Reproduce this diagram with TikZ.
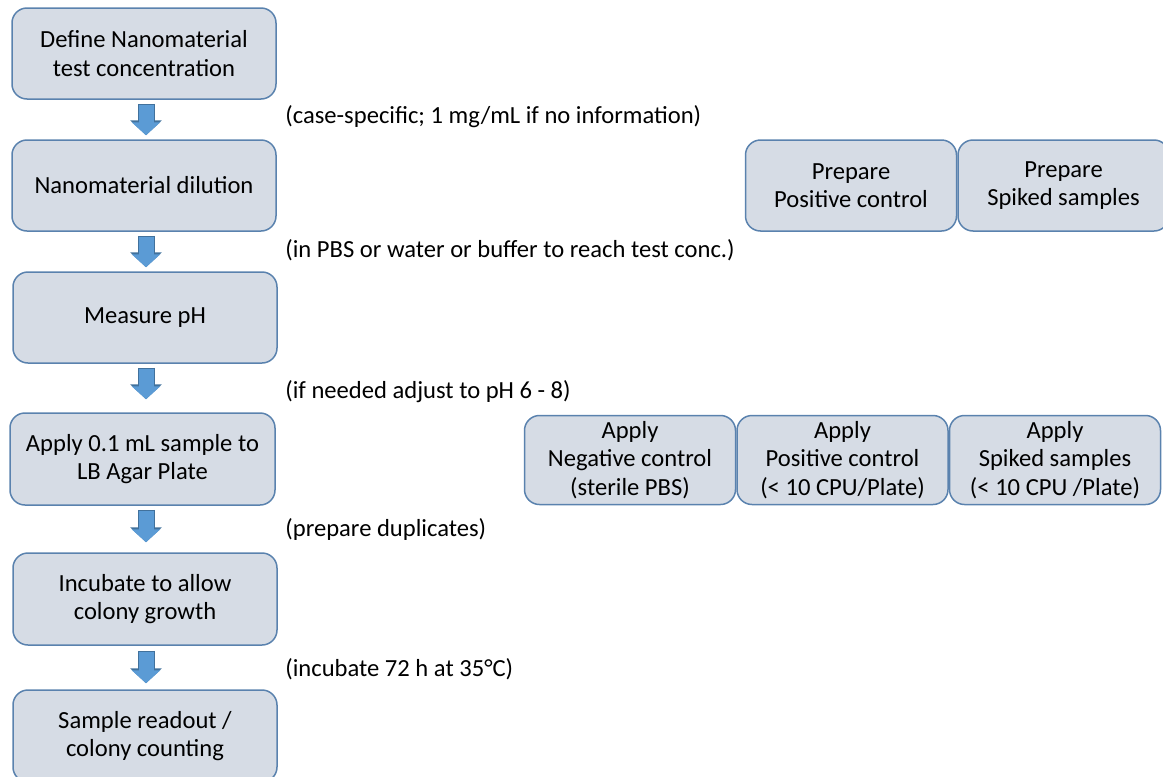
\documentclass[tikz,border=0pt]{standalone}
\usepackage{fontspec}
\setmainfont{Carlito}
\usetikzlibrary{arrows.meta,calc}

\definecolor{boxfill}{HTML}{D6DCE5}
\definecolor{boxline}{HTML}{5A82AE}
\definecolor{arrowfill}{HTML}{5B9BD5}
\definecolor{arrowline}{HTML}{41719C}

\begin{document}
\begin{tikzpicture}[x=0.5pt, y=-0.5pt,
    stepbox/.style={draw=boxline, line width=0.75pt, fill=boxfill, rounded corners=7.5pt,
        minimum width=132pt, minimum height=45.5pt, align=center, inner sep=2pt,
        font=\fontsize{12.3}{14.3}\selectfont},
    sidebox/.style={stepbox, minimum width=105.5pt, minimum height=44.5pt},
    note/.style={anchor=west, inner sep=0pt, font=\fontsize{12.3}{14.3}\selectfont},
    flowarrow/.style={arrowfill, line width=7.5pt, -{Triangle[width=14pt,length=6.5pt]},
        preaction={draw=arrowline, line width=8.5pt, shorten <=-0.5pt,
            -{Triangle[width=15.5pt,length=7.5pt]}}}]
    \useasboundingbox (0,0) rectangle (1163,777);

    % Hauptablauf (linke Spalte)
    \node[stepbox] (define)   at (144,53.5)  {Define Nanomaterial\\test concentration};
    \node[stepbox] (dilution) at (144,185.5) {Nanomaterial dilution};
    \node[stepbox] (ph)       at (145,317.5) {Measure pH};
    \node[stepbox, minimum width=132.5pt, minimum height=46pt] (apply) at (142.5,459) {Apply 0.1 mL sample to\\LB Agar Plate};
    \node[stepbox, minimum height=46pt] (incubate) at (145,599) {Incubate to allow\\colony growth};
    \node[stepbox, minimum height=46pt] (readout)  at (145,736) {Sample readout /\\colony counting};

    % Blockpfeile zwischen den Schritten
    \draw[flowarrow] ($(define.south)+(2,5)$)   -- ($(dilution.north)+(2,-4)$);
    \draw[flowarrow] ($(dilution.south)+(2,5)$) -- ($(ph.north)+(1,-4)$);
    \draw[flowarrow] ($(ph.south)+(1,5)$)       -- ($(apply.north)+(3.5,-13)$);
    \draw[flowarrow] ($(apply.south)+(3.5,5)$)  -- ($(incubate.north)+(1,-10)$);
    \draw[flowarrow] ($(incubate.south)+(1,6)$) -- ($(readout.north)+(1,-6)$);

    % Hinweise
    \node[note] (n1) at (285,116.5) {(case-specific; 1 mg/mL if no information)};
    \node[note] (n2) at (285,250)   {(in PBS or water or buffer to reach test conc.)};
    \node[note] (n3) at (285,392)   {(if needed adjust to pH 6 - 8)};
    \node[note] (n4) at (285,529)   {(prepare duplicates)};
    \node[note] (n5) at (285,669)   {(incubate 72 h at 35°C)};

    % Kontrollen vorbereiten
    \node[sidebox, minimum height=45.5pt] (prepos)   at (851,185.5)  {Prepare\\Positive control};
    \node[sidebox, minimum height=45.5pt] (prespike) at (1063.5,185.5) {Prepare\\Spiked samples};

    % Kontrollen auftragen
    \node[sidebox] (appneg)   at (630,460)   {Apply\\Negative control\\(sterile PBS)};
    \node[sidebox] (apppos)   at (842.5,460) {Apply\\Positive control\\(< 10 CPU/Plate)};
    \node[sidebox] (appspike) at (1055,460)  {Apply\\Spiked samples\\(< 10 CPU /Plate)};
\end{tikzpicture}
\end{document}
